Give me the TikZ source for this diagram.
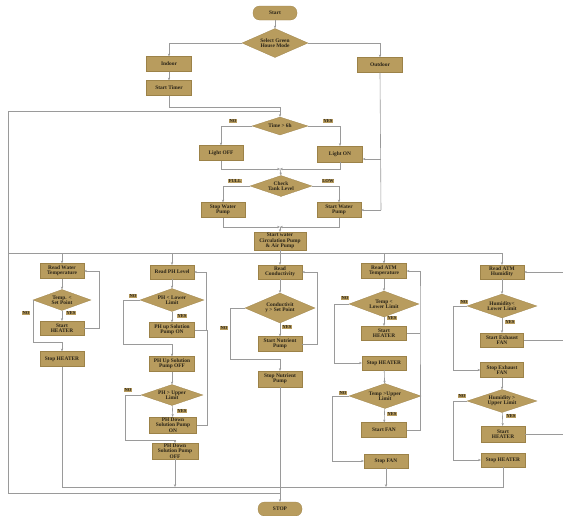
\documentclass[tikz,border=0pt]{standalone}
\usepackage{fontspec}
\setmainfont{Liberation Serif}
\usetikzlibrary{shapes.geometric,arrows.meta}
\definecolor{gold}{HTML}{B89C5E}
\definecolor{goldd}{HTML}{9C8248}
\definecolor{lgray}{HTML}{9A9A9A}
\definecolor{tcol}{HTML}{2A2418}
\tikzset{
  txt/.style={font=\fontsize{5.4}{5.3}\selectfont\bfseries, text=tcol, align=center},
  box/.style={txt, rectangle, fill=gold, draw=goldd, line width=0.25pt, inner sep=0pt},
  term/.style={box, rounded corners=6.5pt},
  dia/.style={diamond, fill=gold, draw=goldd, line width=0.25pt, inner sep=0pt},
  dtext/.style={txt, inner sep=0pt},
  lbl/.style={font=\fontsize{4.6}{5}\selectfont\bfseries, text=tcol, fill=gold, inner sep=0.7pt},
  line/.style={draw=lgray, line width=0.6pt},
  arr/.style={line, -{Stealth[length=2.8pt,width=2.3pt]}},
}
\begin{document}
\begin{tikzpicture}[x=1pt,y=-1pt]
\useasboundingbox (0,0) rectangle (563,515);
\fill[white] (0,0) rectangle (563,515);
\coordinate (bus) at (0,253);
\coordinate (bot) at (0,487);
% top part
\node[term, minimum width=44, minimum height=14] (start) at (275,13) {Start};
\node[dia, minimum width=66, minimum height=29, label={[dtext]center:Select Green\\House Mode}] (mode) at (275,43) {};
\node[box, minimum width=45, minimum height=15] (indoor) at (169,64) {Indoor};
\node[box, minimum width=45, minimum height=15] (outdoor) at (380,65) {Outdoor};
\node[box, minimum width=45, minimum height=15] (timer) at (169,88) {Start Timer};
\node[dia, minimum width=56, minimum height=18, label={[dtext]center:Time > 6h}] (time) at (280,126) {};
\node[box, minimum width=44, minimum height=15] (loff) at (221,153) {Light OFF};
\node[box, minimum width=45, minimum height=16] (lon) at (340,154) {Light ON};
\node[dia, minimum width=62, minimum height=21, label={[dtext]center:Check\\Tank Level}] (tank) at (281,186) {};
\node[box, minimum width=44, minimum height=15] (swp) at (223,210) {Stop Water\\Pump};
\node[box, minimum width=44, minimum height=15] (stwp) at (339,210) {Start Water\\Pump};
\node[box, minimum width=52, minimum height=18] (circ) at (280,241) {Start water\\Circulation Pump\\\& Air Pump};
% column 1
\node[box, minimum width=44, minimum height=15] (rwt) at (62,271) {Read Water\\Temperature};
\node[dia, minimum width=58, minimum height=21, label={[dtext]center:Temp. <\\Set Point}] (dwt) at (62,300) {};
\node[box, minimum width=44, minimum height=14] (sh1) at (62,328) {Start\\HEATER};
\node[box, minimum width=44, minimum height=15] (sph1) at (62,359) {Stop HEATER};
% column 2
\node[box, minimum width=44, minimum height=14] (rph) at (172,272) {Read PH Level};
\node[dia, minimum width=64, minimum height=23, label={[dtext]center:PH < Lower\\Limit}] (dph1) at (172,300) {};
\node[box, minimum width=45, minimum height=15] (phon) at (172,330) {PH up Solution\\Pump ON};
\node[box, minimum width=45, minimum height=15] (phoff) at (172,364) {PH Up Solution\\Pump OFF};
\node[dia, minimum width=62, minimum height=21, label={[dtext]center:PH > Upper\\Limit}] (dph2) at (172,395) {};
\node[box, minimum width=47, minimum height=16] (pdon) at (173,425) {PH Down\\Solution Pump\\ON};
\node[box, minimum width=46, minimum height=16] (pdoff) at (175,451) {PH Down\\Solution Pump\\OFF};
% column 3
\node[box, minimum width=44, minimum height=14] (rc) at (280,272) {Read\\Conductivity};
\node[dia, minimum width=70, minimum height=30, label={[dtext]center:Conductivit\\y > Set Point}] (dc) at (280,308) {};
\node[box, minimum width=44, minimum height=15] (snp) at (280,344) {Start Nutrient\\Pump};
\node[box, minimum width=44, minimum height=16] (spnp) at (280,379) {Stop Nutrient\\Pump};
\node[term, minimum width=44, minimum height=14] (stop) at (280,509) {STOP};
% column 4
\node[box, minimum width=45, minimum height=15] (rat) at (384,271) {Read ATM\\Temperature};
\node[dia, minimum width=70, minimum height=26, label={[dtext]center:Temp <\\Lower Limit}] (dat1) at (384,304) {};
\node[box, minimum width=45, minimum height=14] (sh4) at (384,333) {Start\\HEATER};
\node[box, minimum width=44, minimum height=14] (sph4) at (384,363) {Stop HEATER};
\node[dia, minimum width=72, minimum height=25, label={[dtext]center:Temp >Upper\\Limit}] (dat2) at (385,396) {};
\node[box, minimum width=45, minimum height=15] (sfan) at (384,430) {Start FAN};
\node[box, minimum width=44, minimum height=14] (spfan) at (386,461) {Stop FAN};
% column 5
\node[box, minimum width=44, minimum height=14] (rah) at (502,272) {Read ATM\\Humidity};
\node[dia, minimum width=70, minimum height=24, label={[dtext]center:Humidity<\\Lower Limit}] (dh1) at (502,306) {};
\node[box, minimum width=43, minimum height=14] (sef) at (502,340) {Start Exhaust\\FAN};
\node[box, minimum width=43, minimum height=15] (spef) at (502,370) {Stop Exhaust\\FAN};
\node[dia, minimum width=70, minimum height=23, label={[dtext]center:Humidity >\\Upper Limit}] (dh2) at (502,401) {};
\node[box, minimum width=44, minimum height=16] (sh5) at (503,434) {Start\\HEATER};
\node[box, minimum width=44, minimum height=14] (sph5) at (503,460) {Stop HEATER};
% labels
\node[lbl] (l1) at (233,121) {NO};
\node[lbl] (l2) at (328,121) {YES};
\node[lbl] (l3) at (235,181) {FULL};
\node[lbl] (l4) at (328,181) {LOW};
\node[lbl] (l5) at (26,313) {NO};
\node[lbl] (l6) at (71,313) {YES};
\node[lbl] (l7) at (133,296) {NO};
\node[lbl] (l8) at (182,316) {YES};
\node[lbl] (l9) at (128,390) {NO};
\node[lbl] (l10) at (182,411) {YES};
\node[lbl] (l11) at (287,327) {YES};
\node[lbl] (l12) at (224,328) {NO};
\node[lbl] (l13) at (345,298) {NO};
\node[lbl] (l14) at (392,318) {YES};
\node[lbl] (l15) at (343,393) {NO};
\node[lbl] (l16) at (392,414) {YES};
\node[lbl] (l17) at (464,302) {NO};
\node[lbl] (l18) at (510,322) {YES};
\node[lbl] (l19) at (462,396) {NO};
\node[lbl] (l20) at (511,416) {YES};
% connectors top
\draw[arr] (start) -- (mode);
\draw[arr] (mode.west) -| (indoor.north);
\draw[arr] (mode.east) -| (outdoor.north);
\draw[arr] (indoor) -- (timer);
\coordinate (j1) at (280,107);
\draw[line] (timer.south) |- (j1);
\draw[arr] (j1) -- (time.north);
\coordinate (lp1) at (8,111);
\coordinate (lp2) at (8,493);
\coordinate (lp3) at (280,493);
\coordinate (j2) at (280,111);
\draw[line] (lp3) -- (lp2) -- (lp1) -- (j2);
\draw[arr] (time.west) -| (loff.north);
\draw[arr] (time.east) -| (lon.north);
\coordinate (j3) at (280,169);
\draw[arr] (loff.south) |- (j3);
\draw[arr] (lon.south) |- (j3);
\draw[arr] (j3) -- (tank.north);
\draw[arr] (tank.west) -| (swp.north);
\draw[arr] (tank.east) -| (stwp.north);
\coordinate (j4) at (280,227);
\draw[arr] (swp.south) |- (j4);
\draw[arr] (stwp.south) |- (j4);
\draw[arr] (j4) -- (circ.north);
\coordinate (o1) at (381,210);
\coordinate (o2) at (381,159);
\draw[line] (outdoor.south) -- (o1);
\draw[arr] (o1) -- (stwp.east);
\draw[arr] (o2) -- (lon.east |- o2);
% bus
\draw[line] (circ.south) -- (circ.south |- bus);
\draw[line] (8,253) -- (rah.north |- bus);
\draw[arr] (rwt.north |- bus) -- (rwt.north);
\draw[arr] (rph.north |- bus) -- (rph.north);
\draw[arr] (rc.north |- bus) -- (rc.north);
\draw[arr] (rat.north |- bus) -- (rat.north);
\draw[arr] (rah.north |- bus) -- (rah.north);
% column 1
\draw[arr] (rwt) -- (dwt);
\draw[arr] (dwt) -- (sh1);
\draw[arr] (sh1.east) -- ++(15,0) |- (rwt.east);
\draw[arr] (dwt.west) -- ++(0,42) -| (sph1.north);
\draw[line] (sph1.south) -- (sph1.south |- bot) -- (sph5.south |- bot) -- (sph5.south);
% column 2
\draw[arr] (rph) -- (dph1);
\draw[arr] (dph1) -- (phon);
\draw[arr] (phon.east) -- ++(12,0) |- (rph.east);
\draw[arr] (dph1.west) -| (123,344) -| (phoff.north);
\draw[arr] (phoff) -- (dph2);
\draw[arr] (dph2) -- (pdon);
\draw[line] (pdon.east) -| (207,330);
\draw[arr] (dph2.west) -| (125,440) -| (pdoff.north);
\draw[arr] (pdoff.south) -- (pdoff.south |- bot);
% column 3
\draw[arr] (rc) -- (dc);
\draw[arr] (dc) -- (snp);
\draw[arr] (snp.east) -- (317,344) |- (rc.east);
\draw[arr] (dc.west) -| (230,359) -| (spnp.north);
\draw[arr] (spnp.south) -- (stop.north);
% column 4
\draw[arr] (rat) -- (dat1);
\draw[arr] (dat1) -- (sh4);
\draw[line] (sh4.east) -- (420,333);
\draw[arr] (sfan.east) -| (420,300) |- (rat.east);
\draw[arr] (dat1.west) -| (334,363) -- (sph4.west);
\draw[arr] (sph4) -- (dat2);
\draw[arr] (dat2) -- (sfan);
\draw[arr] (dat2.west) -| (332,461) -- (spfan.west);
\draw[arr] (spfan.south) -- (spfan.south |- bot);
% column 5
\coordinate (e1) at (563,272);
\coordinate (e2) at (563,340);
\coordinate (e3) at (563,434);
\draw[arr] (e1) -- (rah.east);
\draw[arr] (rah) -- (dh1);
\draw[arr] (dh1) -- (sef);
\draw[line] (sef.east) -- (e2);
\draw[arr] (dh1.west) -| (453,370) -- (spef.west);
\draw[arr] (spef) -- (dh2);
\draw[arr] (dh2) -- (sh5);
\draw[line] (sh5.east) -- (e3);
\draw[arr] (dh2.west) -| (453,460) -- (sph5.west);
\end{tikzpicture}
\end{document}
